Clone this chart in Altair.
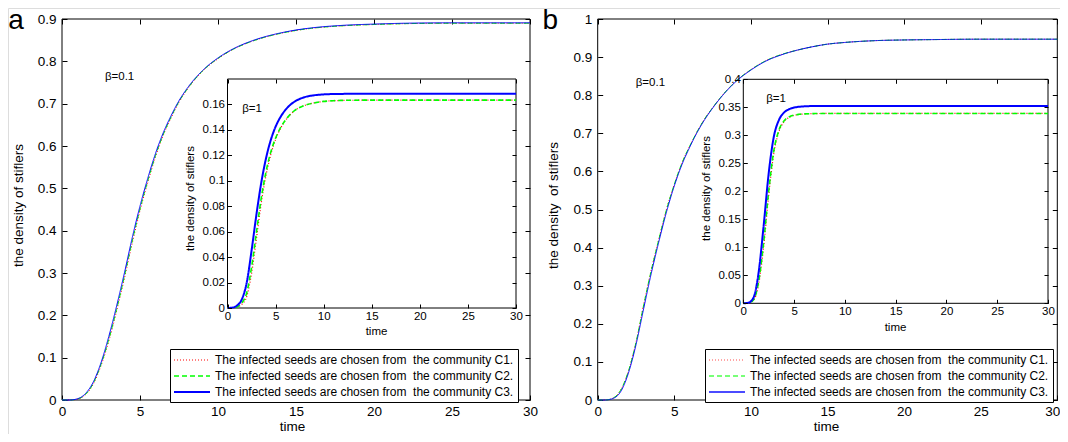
import altair as alt
import pandas as pd

FONT = "Liberation Sans"
W, H = 1052, 426

T = [0, 0.5, 1, 1.5, 2, 2.5, 3, 3.5, 4, 4.5, 5, 5.5, 6, 6.5, 7, 7.5, 8, 9, 10, 11,
     12, 13, 14, 15, 16, 18, 20, 22, 25, 30]

SERIES = [
    "The infected seeds are chosen from\u00a0 the community C1.",
    "The infected seeds are chosen from\u00a0 the community C2.",
    "The infected seeds are chosen from\u00a0 the community C3.",
]
COLORS = ["#ff0000", "#00ff00", "#0000ff"]

# ---- panel a, main (beta = 0.1)
A_MAIN_C1 = [0, 0, 0.002, 0.012, 0.037, 0.081, 0.139, 0.21, 0.287, 0.37, 0.447, 0.514, 0.575, 0.626, 0.667,
             0.703, 0.732, 0.776, 0.806, 0.829, 0.845, 0.857, 0.866, 0.873, 0.878, 0.884, 0.887, 0.889, 0.89, 0.89]
A_MAIN_C2 = [0, 0, 0.0025, 0.013, 0.039, 0.084, 0.143, 0.214, 0.292, 0.375, 0.451, 0.518, 0.578, 0.628, 0.669,
             0.705, 0.733, 0.777, 0.807, 0.829, 0.845, 0.857, 0.866, 0.873, 0.878, 0.884, 0.887, 0.889, 0.89, 0.89]
A_MAIN_C3 = [0, 0, 0.003, 0.015, 0.042, 0.088, 0.15, 0.222, 0.30, 0.383, 0.458, 0.524, 0.583, 0.632, 0.672,
             0.707, 0.735, 0.778, 0.808, 0.83, 0.846, 0.858, 0.867, 0.874, 0.879, 0.885, 0.888, 0.89, 0.891, 0.891]

# ---- panel a, inset (beta = 1)
A_IN_C1 = [0, 0, 0.0008, 0.003, 0.009, 0.027, 0.054, 0.082, 0.104, 0.1205, 0.1325, 0.141, 0.1472, 0.1518, 0.1552,
           0.1576, 0.1592, 0.1612, 0.1624, 0.1629, 0.1632, 0.1633, 0.1634, 0.1634, 0.1634, 0.1634, 0.1634, 0.1634, 0.1634, 0.1634]
A_IN_C2 = [0, 0, 0.001, 0.004, 0.012, 0.032, 0.059, 0.086, 0.107, 0.1225, 0.1335, 0.1415, 0.1475, 0.152, 0.1553,
           0.1576, 0.1592, 0.1612, 0.1624, 0.1629, 0.1632, 0.1633, 0.1634, 0.1634, 0.1634, 0.1634, 0.1634, 0.1634, 0.1634, 0.1634]
A_IN_C3 = [0, 0.0003, 0.002, 0.007, 0.02, 0.045, 0.073, 0.098, 0.1175, 0.132, 0.1425, 0.15, 0.1555, 0.1595, 0.1623,
           0.1643, 0.1657, 0.1672, 0.1679, 0.1682, 0.1683, 0.1684, 0.1684, 0.1684, 0.1684, 0.1684, 0.1684, 0.1684, 0.1684, 0.1684]

# ---- panel b, main (beta = 0.1)
B_MAIN_C1 = [0, 0, 0.005, 0.026, 0.075, 0.152, 0.25, 0.342, 0.424, 0.502, 0.566, 0.622, 0.666, 0.705, 0.739,
             0.767, 0.793, 0.836, 0.867, 0.891, 0.907, 0.918, 0.927, 0.934, 0.938, 0.943, 0.945, 0.946, 0.947, 0.947]
B_MAIN_C2 = [0, 0, 0.005, 0.026, 0.075, 0.151, 0.249, 0.341, 0.423, 0.501, 0.566, 0.622, 0.666, 0.705, 0.739,
             0.767, 0.793, 0.836, 0.867, 0.891, 0.907, 0.918, 0.927, 0.934, 0.938, 0.943, 0.945, 0.946, 0.947, 0.947]
B_MAIN_C3 = [0, 0, 0.004, 0.022, 0.07, 0.145, 0.24, 0.333, 0.417, 0.495, 0.562, 0.618, 0.663, 0.703, 0.737,
             0.766, 0.792, 0.835, 0.866, 0.89, 0.906, 0.918, 0.927, 0.934, 0.938, 0.943, 0.945, 0.946, 0.947, 0.947]

# ---- panel b, inset (beta = 1)
B_IN_C1 = [0, 0.0004, 0.005, 0.033, 0.1, 0.193, 0.267, 0.306, 0.324, 0.332, 0.3356, 0.3373, 0.3381, 0.3386, 0.3388,
           0.3389, 0.339, 0.339, 0.339, 0.339, 0.339, 0.339, 0.339, 0.339, 0.339, 0.339, 0.339, 0.339, 0.339, 0.339]
B_IN_C2 = [0, 0.0005, 0.006, 0.038, 0.108, 0.2, 0.272, 0.309, 0.3255, 0.3327, 0.336, 0.3375, 0.3382, 0.3386, 0.3388,
           0.3389, 0.339, 0.339, 0.339, 0.339, 0.339, 0.339, 0.339, 0.339, 0.339, 0.339, 0.339, 0.339, 0.339, 0.339]
B_IN_C3 = [0, 0.001, 0.01, 0.054, 0.138, 0.232, 0.297, 0.327, 0.3405, 0.3465, 0.3495, 0.351, 0.3517, 0.3521, 0.3523,
           0.3524, 0.3524, 0.3524, 0.3524, 0.3524, 0.3524, 0.3524, 0.3524, 0.3524, 0.3524, 0.3524, 0.3524, 0.3524, 0.3524, 0.3524]

XTICKS = [0, 5, 10, 15, 20, 25, 30]
A_MAIN_YTICKS = [0, 0.1, 0.2, 0.3, 0.4, 0.5, 0.6, 0.7, 0.8, 0.9]
A_IN_YTICKS = [0, 0.02, 0.04, 0.06, 0.08, 0.1, 0.12, 0.14, 0.16]
B_MAIN_YTICKS = [0, 0.1, 0.2, 0.3, 0.4, 0.5, 0.6, 0.7, 0.8, 0.9, 1]
B_IN_YTICKS = [0, 0.05, 0.1, 0.15, 0.2, 0.25, 0.3, 0.35, 0.4]
A_MAIN_YDOM = [0, 0.9]
A_IN_YDOM = [0, 0.18]
B_MAIN_YDOM = [0, 1]
B_IN_YDOM = [0, 0.4]
XDOM = [0, 30]


def long_df(c1, c2, c3):
    rows = []
    for s, vals in zip(SERIES, (c1, c2, c3)):
        for t, v in zip(T, vals):
            rows.append({"t": t, "v": v, "series": s})
    return pd.DataFrame(rows)


def sc(dom, rng):
    return alt.Scale(domain=dom, range=rng, nice=False, zero=False)


def ax(orient, offset, tick, values, labels=True, lab_size=13.5, pad=4,
       title=None, tx=None, ty=None, tsize=13.5, z=0, **extra):
    kw = dict(orient=orient, offset=offset, tickSize=tick, values=values, domain=False,
              grid=False, ticks=True, tickColor="black", tickWidth=1, labels=labels, zindex=z)
    if labels:
        kw.update(labelFont=FONT, labelFontSize=lab_size, labelColor="black", labelPadding=pad,
                  format="~g", labelFlush=False, labelOverlap=False)
    if title:
        kw.update(title=title, titleFont=FONT, titleFontSize=tsize, titleFontWeight="normal",
                  titleColor="black", titleX=tx, titleY=ty, titleAlign="center", titleBaseline="middle")
        if orient == "left":
            kw["titleAngle"] = 270
    else:
        kw["title"] = None
    kw.update(extra)
    return alt.Axis(**kw)


def frame(xr, yr, ydom, yticks, tick, bottom, left, top_off, right_off, fill, z):
    df = pd.DataFrame({"x0": [XDOM[0]], "x1": [XDOM[1]], "y0": [ydom[0]], "y1": [ydom[1]]})
    box = alt.Chart(df).mark_rect(fill=fill, stroke="black", strokeWidth=1).encode(
        x=alt.X("x0:Q", scale=sc(XDOM, xr), axis=bottom),
        x2="x1:Q",
        y=alt.Y("y0:Q", scale=sc(ydom, yr), axis=left),
        y2="y1:Q",
    )
    tr = alt.Chart(df).mark_rect(fillOpacity=0, strokeOpacity=0).encode(
        x=alt.X("x0:Q", scale=sc(XDOM, xr), axis=ax("top", top_off, tick, XTICKS, labels=False, z=z)),
        x2="x1:Q",
        y=alt.Y("y0:Q", scale=sc(ydom, yr), axis=ax("right", right_off, tick, yticks, labels=False, z=z)),
        y2="y1:Q",
    )
    return [box, tr]


def lines(df, xr, yr, ydom, widths, dashes, legend):
    return alt.Chart(df).mark_line(interpolate="monotone").encode(
        x=alt.X("t:Q", scale=sc(XDOM, xr), axis=None),
        y=alt.Y("v:Q", scale=sc(ydom, yr), axis=None),
        color=alt.Color("series:N", scale=alt.Scale(domain=SERIES, range=COLORS), legend=legend),
        strokeDash=alt.StrokeDash("series:N", scale=alt.Scale(domain=SERIES, range=dashes), legend=legend),
        strokeWidth=alt.StrokeWidth("series:N", scale=alt.Scale(domain=SERIES, range=widths), legend=None),
    )


def label(text, x, y, xr, yr, ydom, size, baseline="middle"):
    df = pd.DataFrame({"x": [x], "y": [y], "txt": [text]})
    return alt.Chart(df).mark_text(font=FONT, fontSize=size, align="center", baseline=baseline,
                                   color="black").encode(
        x=alt.X("x:Q", scale=sc(XDOM, xr), axis=None),
        y=alt.Y("y:Q", scale=sc(ydom, yr), axis=None),
        text="txt:N",
    )


def make_legend(lx, ly, sw, op):
    return alt.Legend(title=None, orient="none", legendX=lx, legendY=ly, fillColor="white",
                      strokeColor="black", padding=4, labelFont=FONT, labelFontSize=12,
                      labelColor="black", labelLimit=600, symbolType="M-3,0L3,0", symbolSize=144,
                      symbolStrokeWidth=sw, symbolOpacity=op, symbolOffset=11, labelOffset=16,
                      rowPadding=3)


# pixel ranges of the four plot boxes
A_MX, A_MY = [54, 522], [392, 11]
A_IX, A_IY = [219.5, 508], [300, 71]
B_MX, B_MY = [589.7, 1049.3], [392, 11]
B_IX, B_IY = [735.3, 1040], [295.3, 71.3]

LAST = "datum.value == 30"

layers = []

# ---------- panel a
layers += frame(A_MX, A_MY, A_MAIN_YDOM, A_MAIN_YTICKS, 5,
                ax("bottom", 387 - H, 5, XTICKS, pad=4, title="time", tx=284, ty=31.5),
                ax("left", -59, 5, A_MAIN_YTICKS, pad=6, title="the density of stiflers", tx=-49, ty=197),
                -16, 517 - W, "transparent", 0)
layers.append(lines(long_df(A_MAIN_C1, A_MAIN_C2, A_MAIN_C3), A_MX, A_MY, A_MAIN_YDOM,
                    [1, 1, 1], [[1, 2], [5, 3], [1, 0]], None))
layers.append(label("a", -2.94, 0.877, A_MX, A_MY, A_MAIN_YDOM, 28, "alphabetic"))
layers.append(label("β=0.1", 3.69, 0.762, A_MX, A_MY, A_MAIN_YDOM, 11.5))
layers += frame(A_IX, A_IY, A_IN_YDOM, A_IN_YTICKS, 4,
                ax("bottom", 296 - H, 4, XTICKS, lab_size=11.5, pad=2, title="time", tx=368, ty=27.7,
                   tsize=11.5, z=1),
                ax("left", -223.5, 4, A_IN_YTICKS, lab_size=11.5, pad=3, title="the density of stiflers",
                   tx=-41.5, ty=190, tsize=11.5, z=1),
                -75, 504 - W, "white", 1)
layers.append(lines(long_df(A_IN_C1, A_IN_C2, A_IN_C3), A_IX, A_IY, A_IN_YDOM,
                    [1.2, 2, 2], [[1, 2], [5, 3], [1, 0]], make_legend(162, 341, 2, 1)))
layers.append(label("β=1", 2.55, 0.1564, A_IX, A_IY, A_IN_YDOM, 11.5))

# ---------- panel b
layers += frame(B_MX, B_MY, B_MAIN_YDOM, B_MAIN_YTICKS, 5,
                ax("bottom", 387 - H, 5, XTICKS, pad=4, title="time", tx=818, ty=31.5,
                   labelAlign={"condition": {"test": LAST, "value": "right"}, "value": "center"},
                   labelOffset={"condition": {"test": LAST, "value": 2.5}, "value": 0}),
                ax("left", -594.7, 5, B_MAIN_YTICKS, pad=6, title="the density\u00a0 of stiflers",
                   tx=-49.7, ty=197),
                -16, 1044.3 - W, "transparent", 0)
layers.append(lines(long_df(B_MAIN_C1, B_MAIN_C2, B_MAIN_C3), B_MX, B_MY, B_MAIN_YDOM,
                    [1, 1, 1], [[1, 2], [5, 3], [1, 0]], None))
layers.append(label("b", -3.1, 0.974, B_MX, B_MY, B_MAIN_YDOM, 28, "alphabetic"))
layers.append(label("β=0.1", 3.44, 0.832, B_MX, B_MY, B_MAIN_YDOM, 11.5))
layers += frame(B_IX, B_IY, B_IN_YDOM, B_IN_YTICKS, 4,
                ax("bottom", 291.3 - H, 4, XTICKS, lab_size=11.5, pad=2, title="time", tx=887, ty=27.7,
                   tsize=11.5, z=1),
                ax("left", -739.3, 4, B_IN_YTICKS, lab_size=11.5, pad=3, title="the density of stiflers",
                   tx=-40.6, ty=180, tsize=11.5, z=1),
                -75.3, 1036 - W, "white", 1)
layers.append(lines(long_df(B_IN_C1, B_IN_C2, B_IN_C3), B_IX, B_IY, B_IN_YDOM,
                    [1.2, 2, 2], [[1, 2], [5, 3], [1, 0]], make_legend(697, 341, 1.3, 0.7)))
layers.append(label("β=1", 3.22, 0.365, B_IX, B_IY, B_IN_YDOM, 11.5))

chart = alt.layer(*layers).resolve_scale(
    x="independent", y="independent", color="independent",
    strokeDash="independent", strokeWidth="independent",
).properties(
    width=W, height=H, padding=0, autosize=alt.AutoSizeParams(type="none"),
).configure_view(stroke=None).configure(font=FONT)

chart.save("out.html", embed_options={"renderer": "svg", "actions": False})
